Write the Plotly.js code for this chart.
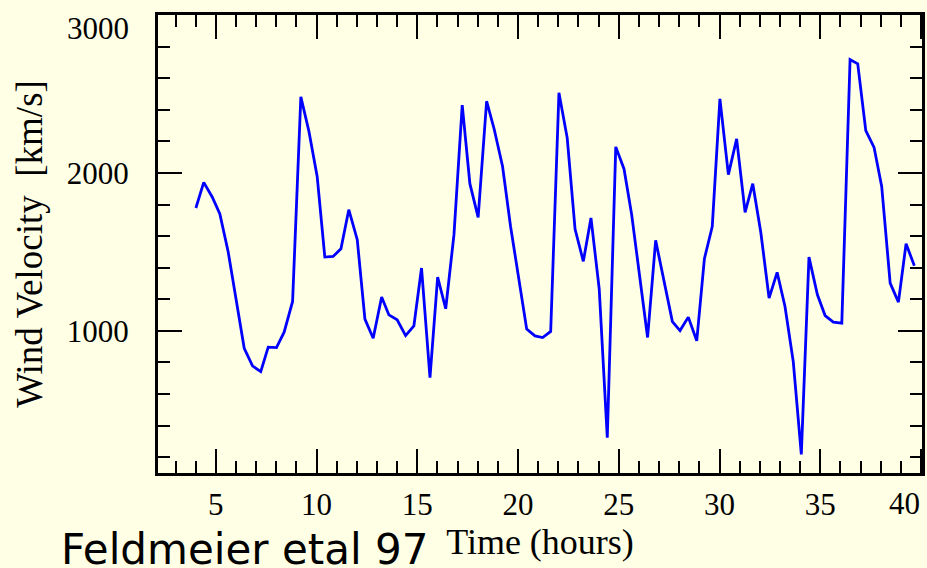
<!DOCTYPE html>
<html>
<head>
<meta charset="utf-8">
<script src="https://cdn.plot.ly/plotly-3.0.1.min.js"></script>
<style>html,body{margin:0;padding:0;background:#FFFFE5;}</style>
</head>
<body>
<div id="chart" style="width:927px;height:568px;"></div>
<script>
const timeHours = [4.01,4.40,4.82,5.20,5.61,6.03,6.41,6.82,7.23,7.60,
  8.01,8.39,8.81,9.22,9.62,10.03,10.41,10.82,11.21,11.60,
  12.02,12.40,12.81,13.23,13.59,14.00,14.42,14.83,15.21,15.63,
  16.01,16.41,16.82,17.23,17.61,18.02,18.44,18.82,19.23,19.63,
  20.03,20.43,20.84,21.22,21.62,22.03,22.44,22.83,23.24,23.62,
  24.03,24.43,24.85,25.26,25.64,26.05,26.43,26.83,27.24,27.66,
  28.04,28.45,28.87,29.25,29.64,30.02,30.44,30.85,31.27,31.65,
  32.05,32.46,32.86,33.25,33.66,34.06,34.44,34.86,35.24,35.65,
  36.07,36.48,36.86,37.26,37.67,38.05,38.47,38.88,39.26,39.67];
const windVelocity = [1778,1940,1848,1740,1503,1186,890,778,742,897,
  894,992,1186,2482,2264,1978,1467,1471,1520,1767,
  1577,1074,953,1214,1101,1070,970,1032,1398,704,
  1340,1140,1609,2429,1932,1719,2454,2275,2042,1661,
  1323,1011,968,958,996,2507,2222,1645,1440,1715,
  1264,323,2165,2025,1736,1313,958,1573,1313,1059,
  1002,1087,937,1457,1661,2469,1989,2216,1750,1932,
  1623,1207,1370,1154,805,218,1467,1228,1097,1055,
  1049,2718,2691,2268,2162,1915,1302,1182,1552,1412];
const xTickVals = [5,10,15,20,25,30,35,40];
const xTickText = ["5","10","15","20","25","30","35",""];
const yTickVals = [1000,2000,3000];
const yTickText = ["1000","2000",""];
const xTitle = "Time (hours)";
const yTitle = "Wind Velocity\u00a0\u00a0[km/s]";
const credit = "Feldmeier etal 97";

const serif = "Liberation Serif, Times New Roman, serif";
const bg = "#FFFFE5";

const trace = {
  x: timeHours, y: windVelocity, type: "scatter", mode: "lines",
  line: {color: "#0000FF", width: 2.8}, hoverinfo: "skip"
};

const axisCommon = {
  showgrid: false, zeroline: false, showline: true, linecolor: "black", linewidth: 3,
  mirror: "allticks", ticks: "inside", ticklen: 24, tickwidth: 2, tickcolor: "black",
  tickfont: {family: serif, size: 31, color: "black"}
};

const layout = {
  width: 927, height: 568,
  margin: {l: 158, r: 5, t: 15, b: 95},
  paper_bgcolor: bg, plot_bgcolor: bg,
  showlegend: false,
  xaxis: Object.assign({}, axisCommon, {
    range: [2.13, 40.05],
    tickmode: "array", tickvals: xTickVals, ticktext: xTickText,
    ticklabelstandoff: 2,
    minor: {dtick: 1, tick0: 0, ticks: "inside", ticklen: 12, tickwidth: 2, tickcolor: "black"},
    title: {text: xTitle, font: {family: serif, size: 36, color: "black"}, standoff: 7}
  }),
  yaxis: Object.assign({}, axisCommon, {
    range: [100, 3000],
    tickmode: "array", tickvals: yTickVals, ticktext: yTickText,
    ticklabelstandoff: 20,
    minor: {dtick: 200, tick0: 0, ticks: "inside", ticklen: 12, tickwidth: 2, tickcolor: "black"},
    title: {text: yTitle, font: {family: serif, size: 37, color: "black"}, standoff: 13}
  }),
  annotations: [
    {text: "40", xref: "x", yref: "paper", x: 40.05, y: 0, xanchor: "right", yanchor: "top",
     yshift: -11, showarrow: false, font: {family: serif, size: 31, color: "black"}},
    {text: "3000", xref: "paper", yref: "y", x: 0, y: 3000, xanchor: "right", yanchor: "top",
     xshift: -27, yshift: 6, showarrow: false, font: {family: serif, size: 31, color: "black"}},
    {text: credit, xref: "paper", yref: "paper", x: -0.1296, y: -0.166, xanchor: "left", yanchor: "middle",
     showarrow: false, font: {family: "DejaVu Sans, sans-serif", size: 42, color: "black"}}
  ]
};

Plotly.newPlot("chart", [trace], layout, {displayModeBar: false, staticPlot: true});
</script>
</body>
</html>
